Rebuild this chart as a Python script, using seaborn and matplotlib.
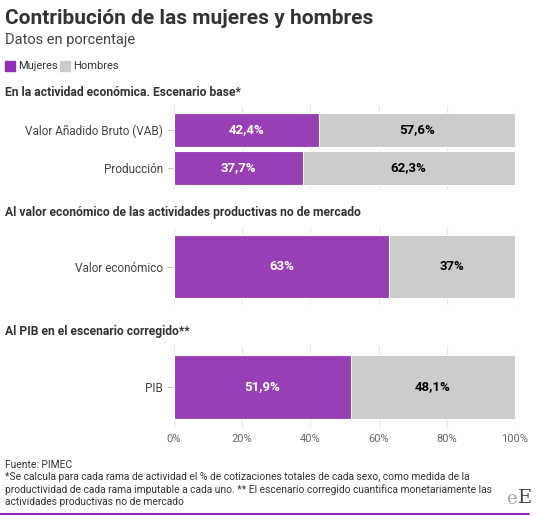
import matplotlib.pyplot as plt
import pandas as pd
import seaborn as sns

# Data
sections = ['En la actividad económica. Escenario base*',
            'Al valor económico de las actividades productivas no de mercado',
            'Al PIB en el escenario corregido**']
cats_1 = ['Valor Añadido Bruto (VAB)', 'Producción']
mujeres_1 = [42.4, 37.7]
hombres_1 = [57.6, 62.3]
cats_2 = ['Valor económico']
mujeres_2 = [63]
hombres_2 = [37]
cats_3 = ['PIB']
mujeres_3 = [51.9]
hombres_3 = [48.1]
ticks = [0, 20, 40, 60, 80, 100]

PURPLE = '#983fb6'
GRAY = '#cccccc'
TXT = '#333333'

sns.set_theme(style='white')
plt.rcParams['font.family'] = ['Roboto', 'DejaVu Sans']

W, H = 536, 516
fig = plt.figure(figsize=(W / 100, H / 100), dpi=100, facecolor='white')


def fy(px):
    return 1 - px / H


def fx(px):
    return px / W


def fmt(v):
    s = ('%.1f' % v).replace('.', ',') if v != int(v) else '%d' % v
    return s + '%'


def draw(top, bottom, cats, muj, hom, width, ylim, show_ticks=False):
    ax = fig.add_axes([fx(174), fy(bottom), fx(515) - fx(174), fy(top) - fy(bottom)])
    df = pd.DataFrame({'cat': cats, 'total': [m + h for m, h in zip(muj, hom)], 'muj': muj})
    sns.barplot(data=df, x='total', y='cat', orient='h', color=GRAY, width=width,
                saturation=1, edgecolor='white', linewidth=0.8, ax=ax, zorder=2)
    sns.barplot(data=df, x='muj', y='cat', orient='h', color=PURPLE, width=width,
                saturation=1, edgecolor='white', linewidth=0.8, ax=ax, zorder=3)
    ax.set_xlim(0, 100)
    ax.set_ylim(*ylim)
    ax.set_xlabel('')
    ax.set_ylabel('')
    ax.set_xticks(ticks)
    for t in ticks:
        ax.axvline(t, color='#e6e6e6', lw=0.8, zorder=0)
    for i, (m, h) in enumerate(zip(muj, hom)):
        ax.text(m / 2, i, fmt(m), ha='center', va='center', color='white',
                fontsize=9.5, fontweight='bold', zorder=5)
        ax.text(m + h / 2, i, fmt(h), ha='center', va='center', color='black',
                fontsize=9.5, fontweight='bold', zorder=5)
    for s in ax.spines.values():
        s.set_visible(False)
    ax.tick_params(axis='y', length=5, color='#cccccc', width=0.8, pad=3,
                   labelsize=8.5, labelcolor='#444444', left=True)
    if show_ticks:
        ax.set_xticklabels([f'{t}%' for t in ticks])
        ax.tick_params(axis='x', length=0, labelsize=8, labelcolor='#666666', pad=4)
    else:
        ax.set_xticklabels([])
        ax.tick_params(axis='x', length=0)
    return ax


draw(106, 190, cats_1, mujeres_1, hombres_1, 0.89, (1.58, -0.63))
draw(228, 305, cats_2, mujeres_2, hombres_2, 0.82, (0.5, -0.5))
draw(346, 428, cats_3, mujeres_3, hombres_3, 0.78, (0.5, -0.5), show_ticks=True)

# Titles
fig.text(fx(5), fy(18), 'Contribución de las mujeres y hombres', fontsize=15,
         fontweight='bold', color=TXT, va='center')
fig.text(fx(5), fy(40), 'Datos en porcentaje', fontsize=10.5, color='#444444', va='center')

# Legend
fig.patches.append(plt.Rectangle((fx(5), fy(71)), fx(10), 10 / H, color='#8e2fb5',
                                 transform=fig.transFigure, figure=fig))
fig.text(fx(18), fy(66), 'Mujeres', fontsize=8, color=TXT, va='center')
fig.patches.append(plt.Rectangle((fx(60), fy(71)), fx(10), 10 / H, color=GRAY,
                                 transform=fig.transFigure, figure=fig))
fig.text(fx(73), fy(66), 'Hombres', fontsize=8, color=TXT, va='center')

# Section headers
for y, s in zip([92, 212, 331], sections):
    fig.text(fx(5), fy(y), s, fontsize=8.7, fontweight='bold', color=TXT, va='center')

# Footer
fig.text(fx(5), fy(465), 'Fuente: PIMEC', fontsize=7.4, color=TXT, va='center')
notes = ('*Se calcula para cada rama de actividad el % de cotizaciones totales de cada sexo, como medida de la\n'
         'productividad de cada rama imputable a cada uno. ** El escenario corregido cuantifica monetariamente las\n'
         'actividades productivas no de mercado')
fig.text(fx(5), fy(472), notes, fontsize=7.4, color=TXT, va='top', linespacing=1.25)
fig.text(fx(517), fy(499), 'e', fontsize=13, family='DejaVu Serif', color='#aaaaaa',
         ha='right', va='center')
fig.text(fx(518), fy(498), 'E', fontsize=14, family='DejaVu Serif', color='#444444',
         ha='left', va='center')
fig.add_artist(plt.Line2D([0, fx(529)], [fy(514), fy(514)], color='#8e2fb5', lw=1.5))

fig.savefig('out.png', dpi=100, facecolor='white')
